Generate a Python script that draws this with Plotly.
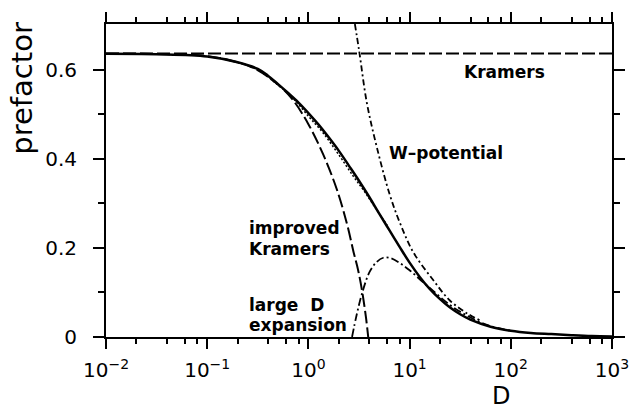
import plotly.graph_objects as go

# ---- data ----
D_solid = [0.01, 0.0316, 0.1, 0.2, 0.316, 0.398, 0.501, 0.631, 0.794, 1.0, 1.26, 1.58, 2.0,
           2.51, 3.16, 3.98, 5.01, 6.31, 7.94, 10.0, 12.6, 15.8, 20.0, 25.1, 31.6, 39.8,
           63.1, 100.0, 158.0, 251.0, 398.0, 631.0, 1000.0]
P_solid = [0.636, 0.635, 0.630, 0.617, 0.602, 0.587, 0.568, 0.548, 0.527, 0.503, 0.477, 0.449, 0.418,
           0.385, 0.351, 0.315, 0.277, 0.240, 0.203, 0.167, 0.135, 0.108, 0.085, 0.066, 0.051, 0.039,
           0.023, 0.014, 0.009, 0.0065, 0.004, 0.002, 0.001]

D_dotted = [0.2, 0.316, 0.5, 0.7, 1.0, 1.4, 2.0, 2.8, 3.5, 4.5, 6.0]
P_dotted = [0.616, 0.600, 0.566, 0.537, 0.496, 0.458, 0.409, 0.360, 0.330, 0.293, 0.251]

D_kramers = [0.01, 1000.0]
P_kramers = [0.6366, 0.6366]

D_improved = [0.01, 0.1, 0.2, 0.3, 0.5, 0.7, 1.0, 1.4, 1.9, 2.4, 2.8, 3.1, 3.4, 3.7, 3.9]
P_improved = [0.636, 0.631, 0.617, 0.602, 0.567, 0.533, 0.478, 0.410, 0.333, 0.255, 0.190, 0.150, 0.102, 0.045, 0.0]

D_large = [2.7, 3.0, 3.37, 4.0, 4.7, 5.5, 6.5, 8.0, 10.0, 13.0, 17.0, 25.0, 37.0, 60.0, 100.0]
P_large = [0.0, 0.05, 0.096, 0.145, 0.168, 0.178, 0.177, 0.166, 0.150, 0.127, 0.104, 0.072, 0.048, 0.026, 0.014]

D_w = [2.88, 3.18, 3.78, 4.76, 6.4, 8.1, 10.9, 17.1, 25.0, 37.0, 50.0]
P_w = [0.703, 0.641, 0.526, 0.425, 0.318, 0.254, 0.190, 0.128, 0.082, 0.053, 0.037]

x_tickvals = [0.01, 0.1, 1, 10, 100, 1000]
x_ticktext = ["10<sup>−2</sup>", "10<sup>−1</sup>", "10<sup>0</sup>", "10<sup>1</sup>",
              "10<sup>2</sup>", "10<sup>3</sup>"]
x_minor = [0.02, 0.04, 0.06, 0.08, 0.2, 0.4, 0.6, 0.8, 2, 4, 6, 8,
           20, 40, 60, 80, 200, 400, 600, 800]
y_tickvals = [0, 0.2, 0.4, 0.6]
y_ticktext = ["0", "0.2", "0.4", "0.6"]
y_minor = [0.1, 0.3, 0.5]

FONT = "DejaVu Sans"

fig = go.Figure()
fig.add_trace(go.Scatter(x=D_kramers, y=P_kramers, mode="lines",
                         line=dict(color="black", width=2, dash="13px,4px")))
fig.add_trace(go.Scatter(x=D_improved, y=P_improved, mode="lines",
                         line=dict(color="black", width=2, dash="13px,4px", shape="spline")))
fig.add_trace(go.Scatter(x=D_dotted, y=P_dotted, mode="lines",
                         line=dict(color="black", width=1.5, dash="2px,2px", shape="spline")))
fig.add_trace(go.Scatter(x=D_large, y=P_large, mode="lines",
                         line=dict(color="black", width=1.8, dash="8px,3px,2px,3px", shape="spline")))
fig.add_trace(go.Scatter(x=D_w, y=P_w, mode="lines",
                         line=dict(color="black", width=1.8, dash="6px,3px,2px,3px", shape="spline")))
fig.add_trace(go.Scatter(x=D_solid, y=P_solid, mode="lines",
                         line=dict(color="black", width=2.5, shape="spline")))

ann_font = dict(family=FONT, size=17, color="black", weight="bold")
labels = [
    ("Kramers", 0.703, 0.847),
    ("W–potential", 0.555, 0.589),
    ("improved", 0.278, 0.347),
    ("Kramers", 0.278, 0.281),
    ("large  D", 0.278, 0.103),
    ("expansion", 0.278, 0.037),
]
for txt, ax_, ay_ in labels:
    fig.add_annotation(text=txt, x=ax_, y=ay_, xref="paper", yref="paper",
                       xanchor="left", yanchor="middle", showarrow=False, font=ann_font)

fig.add_annotation(text="prefactor", x=-0.165, y=0.795, xref="paper", yref="paper",
                   textangle=-90, showarrow=False, xanchor="center", yanchor="middle",
                   font=dict(family=FONT, size=29, color="black"))
fig.add_annotation(text="D", x=0.78, y=-0.19, xref="paper", yref="paper",
                   showarrow=False, xanchor="center", yanchor="middle",
                   font=dict(family=FONT, size=24, color="black"))

fig.update_layout(
    width=642, height=409,
    margin=dict(l=106, r=30, t=19.5, b=72.3),
    paper_bgcolor="white", plot_bgcolor="white",
    showlegend=False,
    font=dict(family=FONT, size=20, color="black"),
)
fig.update_xaxes(type="log", range=[-2, 3], tickmode="array", tickvals=x_tickvals,
                 ticktext=x_ticktext, ticks="outside", ticklen=10, tickwidth=2,
                 tickcolor="black", showline=True, linecolor="black", linewidth=2,
                 mirror="ticks", showgrid=False, zeroline=False, ticklabelstandoff=4,
                 tickfont=dict(family=FONT, size=20),
                 minor=dict(tickmode="array", tickvals=x_minor, ticks="outside",
                            ticklen=5, tickwidth=1.5, tickcolor="black", showgrid=False))
fig.update_yaxes(range=[0, 0.703], tickmode="array", tickvals=y_tickvals,
                 ticktext=y_ticktext, ticks="outside", ticklen=11, tickwidth=2,
                 tickcolor="black", showline=True, linecolor="black", linewidth=2,
                 mirror="ticks", showgrid=False, zeroline=False, ticklabelstandoff=12,
                 tickfont=dict(family=FONT, size=20),
                 minor=dict(tickmode="array", tickvals=y_minor, ticks="outside",
                            ticklen=6, tickwidth=1.5, tickcolor="black", showgrid=False))

fig.write_html("out.html")
